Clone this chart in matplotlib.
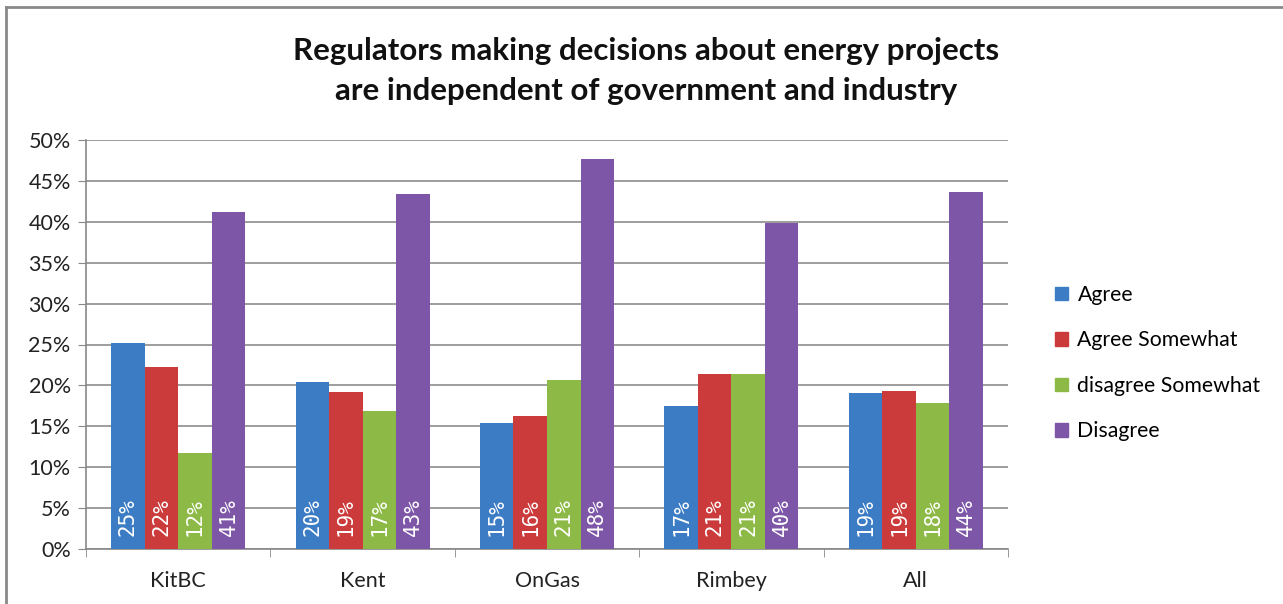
import matplotlib
matplotlib.use("Agg")
import matplotlib.pyplot as plt
import numpy as np
from matplotlib.patches import Rectangle
from matplotlib.lines import Line2D

categories = ["KitBC", "Kent", "OnGas", "Rimbey", "All"]
series_names = ["Agree", "Agree Somewhat", "disagree Somewhat", "Disagree"]
agree = [25.2, 20.4, 15.4, 17.5, 19.1]
agree_somewhat = [22.2, 19.2, 16.3, 21.4, 19.3]
disagree_somewhat = [11.7, 16.9, 20.7, 21.4, 17.9]
disagree = [41.2, 43.4, 47.7, 39.8, 43.6]
value_labels = [
    ["25%", "20%", "15%", "17%", "19%"],
    ["22%", "19%", "16%", "21%", "19%"],
    ["12%", "17%", "21%", "21%", "18%"],
    ["41%", "43%", "48%", "40%", "44%"],
]
colors = ["#3C7CC4", "#CC3B3B", "#8DBA46", "#7D56A8"]
title = "Regulators making decisions about energy projects\nare independent of government and industry"

plt.rcParams['font.family'] = ['Lato', 'DejaVu Sans']

W, H = 1283, 604
fig = plt.figure(figsize=(W / 100, H / 100), dpi=100)
ax = fig.add_axes([86 / W, (H - 549) / H, 922 / W, 409 / H])

series = [agree, agree_somewhat, disagree_somewhat, disagree]
x = np.arange(len(categories))
bw = 0.727 / 4
for i, (vals, col, name) in enumerate(zip(series, colors, series_names)):
    pos = x - 0.727 / 2 + bw * (i + 0.5)
    ax.bar(pos, vals, width=bw, color=col, label=name, zorder=3)
    for p, lab in zip(pos, value_labels[i]):
        ax.text(p, 1.6, lab, rotation=90, ha='center', va='bottom', color='white',
                fontsize=15, family=['DejaVu Sans Mono', 'DejaVu Sans'], zorder=4)

ax.set_xlim(-0.5, len(categories) - 0.5)
ax.set_ylim(0, 50)
ax.set_yticks(np.arange(0, 51, 5))
ax.set_yticklabels([f"{v}%" for v in range(0, 51, 5)], fontsize=15.5, color='#222222')
ax.set_xticks(x)
ax.set_xticklabels(categories, fontsize=15.5, color='#222222')
ax.set_xticks(np.arange(-0.5, len(categories)), minor=True)
ax.tick_params(axis='x', which='major', length=0, pad=16)
ax.tick_params(axis='x', which='minor', length=6, color='#888888', direction='out')
ax.tick_params(axis='y', length=6, color='#888888', pad=5)
ax.yaxis.grid(True, color='#8c8c8c', linewidth=1.2, zorder=0)
for s in ['top', 'right']:
    ax.spines[s].set_visible(False)
for s in ['left', 'bottom']:
    ax.spines[s].set_color('#888888')
    ax.spines[s].set_linewidth(1.2)

fig.text(646 / W, 1 - 71 / H, title, ha='center', va='center', fontsize=22.5,
         fontweight='bold', linespacing=1.5, color='#111111')

handles = [Rectangle((0, 0), 1, 1, color=c) for c in colors]
leg = fig.legend(handles, series_names, loc='center left',
                 bbox_to_anchor=(1036 / W, 1 - 363 / H), frameon=False,
                 fontsize=15.3, handlelength=0.6, handleheight=0.6,
                 handletextpad=0.45, labelspacing=1.2)

# outer border of chart
fig.add_artist(Line2D([6 / W, 1], [1 - 6.5 / H, 1 - 6.5 / H], transform=fig.transFigure,
                      color='#8a8a8a', linewidth=2))
fig.add_artist(Line2D([6 / W, 6 / W], [0, 1 - 6.5 / H], transform=fig.transFigure,
                      color='#8a8a8a', linewidth=2))

fig.savefig("out.png", dpi=100)
